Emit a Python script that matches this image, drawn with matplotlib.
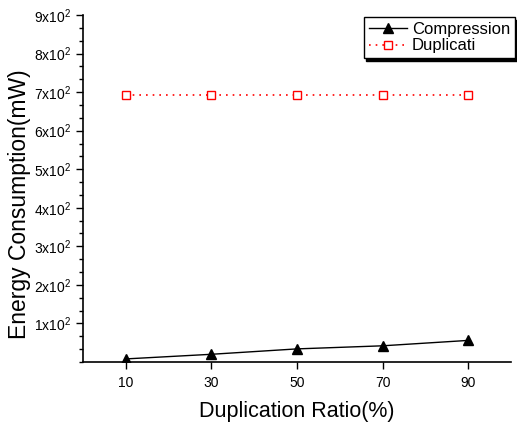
import matplotlib
matplotlib.use("Agg")
import matplotlib.pyplot as plt
from matplotlib.ticker import MultipleLocator

plt.rcParams['font.family'] = ['Liberation Sans', 'DejaVu Sans']
plt.rcParams['mathtext.fontset'] = 'custom'
plt.rcParams['mathtext.rm'] = 'Liberation Sans'
plt.rcParams['mathtext.it'] = 'Liberation Sans'

ratios = [10, 30, 50, 70, 90]
compression = [8, 20, 34, 42, 56]
duplication = [693, 693, 693, 693, 693]
ytick_vals = [100, 200, 300, 400, 500, 600, 700, 800, 900]
ytick_labels = [f"{v // 100}x10$^2$" for v in ytick_vals]

fig = plt.figure(figsize=(5.17, 4.25), dpi=100)
ax = fig.add_axes([83/517, 1 - 362/425, (511-83)/517, (362-15)/425])

ax.plot(ratios, compression, color='black', lw=1, marker='^', ms=7,
        markerfacecolor='black', label='Compression')
ax.plot(ratios, duplication, color='red', lw=1.2, ls=(0, (1, 3)), marker='s', ms=6,
        markerfacecolor='white', markeredgecolor='red', label='Duplicati')

ax.set_xlim(0, 100)
ax.set_ylim(0, 900)
ax.set_xticks(ratios)
ax.set_yticks(ytick_vals)
ax.set_yticklabels(ytick_labels)
ax.yaxis.set_minor_locator(MultipleLocator(100/3))
ax.tick_params(axis='both', which='major', direction='out', length=5, width=1, labelsize=10)
ax.tick_params(axis='x', which='major', pad=5)
ax.tick_params(axis='y', which='minor', direction='out', length=3, width=1)
ax.spines['top'].set_visible(False)
ax.spines['right'].set_visible(False)
ax.spines['left'].set_linewidth(1.2)
ax.spines['bottom'].set_linewidth(1.2)

ax.set_xlabel('Duplication Ratio(%)', fontsize=15.5, labelpad=8)
ax.set_ylabel('Energy Consumption(mW)', fontsize=16.5)
ax.yaxis.set_label_coords(-0.122, 0.455)

leg = ax.legend(loc='upper right', bbox_to_anchor=(1.01, 0.995), fontsize=12,
                frameon=True, fancybox=False, edgecolor='black',
                shadow={'color': 'black', 'alpha': 1},
                borderpad=0.3, handlelength=2.3, handletextpad=0.3,
                labelspacing=0.1, borderaxespad=0.0)
leg.get_frame().set_linewidth(1)

fig.savefig('out.png', dpi=100)
